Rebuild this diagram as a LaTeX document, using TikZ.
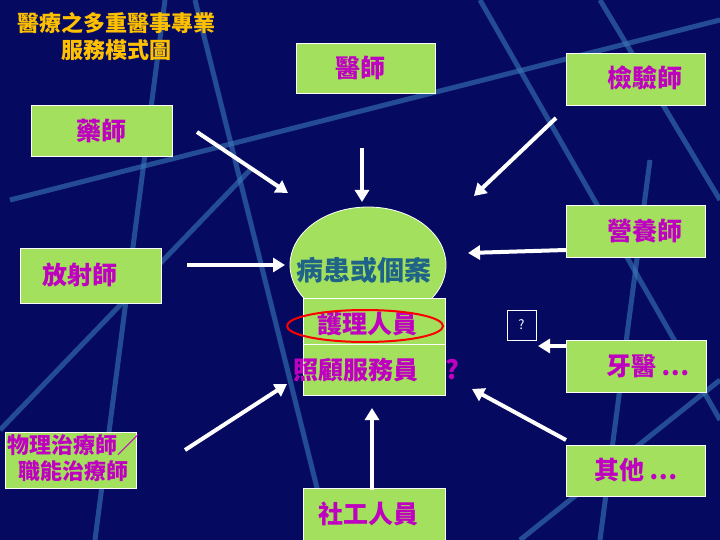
\documentclass[tikz,border=0pt]{standalone}
\usepackage{fontspec}
\setmainfont{Noto Sans CJK TC}
\usetikzlibrary{shapes.geometric,arrows.meta}
\begin{document}
\begin{tikzpicture}[x=1pt,y=-1pt,
  bx/.style={draw=white,line width=0.8pt,fill=lgreen},
  lbl/.style={text=mag,font=\fontsize{25}{28}\selectfont\bfseries},
  arr/.style={draw=white,line width=4pt,-{Triangle[length=12pt,width=14pt]}},
  bgl/.style={draw=lblue,line width=5pt,opacity=0.6}]
\definecolor{navy}{HTML}{050A60}
\definecolor{lgreen}{HTML}{A2E05E}
\definecolor{mag}{HTML}{C000C0}
\definecolor{lblue}{HTML}{3A78B8}
\definecolor{teal2}{HTML}{1F6488}
\definecolor{gold}{HTML}{FFC000}
\fill[navy] (0,0) rectangle (720,540);
\useasboundingbox (0,0) rectangle (720,540);
% background lines
\draw[bgl] (165,0) -- (95,540);
\draw[bgl] (195,0) -- (330,540);
\draw[bgl] (10,200) -- (720,20);
\draw[bgl] (600,0) -- (720,200);
\draw[bgl] (480,0) -- (720,420);
\draw[bgl] (650,160) -- (600,540);
\draw[bgl] (0,430) -- (250,170);
\draw[bgl] (520,540) -- (720,380);
% title
\node[text=gold,font=\fontsize{22}{27}\selectfont\bfseries,align=center] (title) at (116,36) {醫療之多重醫事專業\\服務模式圖};
% boxes
\node[bx,minimum width=139pt,minimum height=50pt] (doc) at (365.5,68) {};
\node[lbl] (docl) at (360,68) {醫師};
\node[bx,minimum width=139pt,minimum height=52pt] (lab) at (636,79) {};
\node[lbl] (labl) at (645,78) {檢驗師};
\node[bx,minimum width=141pt,minimum height=51pt] (ph) at (101.5,130.5) {};
\node[lbl] (phl) at (ph) {藥師};
\node[bx,minimum width=139pt,minimum height=52pt] (nut) at (636,231) {};
\node[lbl] (nutl) at (645,231) {營養師};
\node[bx,minimum width=141pt,minimum height=55pt] (rad) at (90.5,275.5) {};
\node[lbl] (radl) at (80,275) {放射師};
\node[bx,minimum width=140pt,minimum height=52pt] (den) at (636,366) {};
\node[lbl] (denl) at (648,366) {牙醫 …};
\node[bx,minimum width=131pt,minimum height=56pt] (pt) at (70.5,460) {};
\node[lbl,align=center,font=\fontsize{22}{26}\selectfont\bfseries] (ptl) at (74,458) {物理治療師／\\職能治療師};
\node[bx,minimum width=139pt,minimum height=51pt] (oth) at (636,470.5) {};
\node[lbl] (othl) at (636,470) {其他 …};
\node[bx,minimum width=142pt,minimum height=52pt] (sw) at (374,514) {};
\node[lbl] (swl) at (368,514) {社工人員};
% center
\node[draw=white,line width=0.8pt,fill=lgreen,ellipse,minimum width=156pt,minimum height=116pt,inner sep=0pt] (pat) at (368,265) {};
\node[bx,minimum width=142pt,minimum height=97pt] (care) at (374,346.5) {};
\draw[white,line width=0.8pt] (303,344) -- (445,344);
\node[text=teal2,font=\fontsize{27}{30}\selectfont\bfseries] (patl) at (364,270) {病患或個案};
\node[lbl] (nurse) at (367,324) {護理人員};
\node[lbl] (aide) at (356,370) {照顧服務員};
\node[text=mag,font=\fontsize{26}{28}\selectfont\bfseries] (q1) at (452,370) {?};
\draw[red,line width=2pt] (365,326) ellipse [x radius=78pt,y radius=16pt];
\node[draw=white,line width=1pt,minimum width=29pt,minimum height=30pt,text=white,font=\fontsize{13}{15}\selectfont] (q2) at (521.5,325) {?};
% arrows
\coordinate (a1) at (197,132); \coordinate (b1) at (288,193);
\draw[arr] (a1) -- (b1);
\coordinate (a2) at (362,148); \coordinate (b2) at (362,202);
\draw[arr] (a2) -- (b2);
\coordinate (a3) at (556,118); \coordinate (b3) at (474,196);
\draw[arr] (a3) -- (b3);
\coordinate (a4) at (566,250); \coordinate (b4) at (468,253);
\draw[arr] (a4) -- (b4);
\coordinate (a5) at (187,265); \coordinate (b5) at (285,265);
\draw[arr] (a5) -- (b5);
\coordinate (a6) at (566,346); \coordinate (b6) at (538,346);
\draw[arr] (a6) -- (b6);
\coordinate (a7) at (566,440); \coordinate (b7) at (472,389);
\draw[arr] (a7) -- (b7);
\coordinate (a8) at (185,450); \coordinate (b8) at (287,384);
\draw[arr] (a8) -- (b8);
\coordinate (a9) at (372,490); \coordinate (b9) at (372,408);
\draw[arr] (a9) -- (b9);
\end{tikzpicture}
\end{document}
